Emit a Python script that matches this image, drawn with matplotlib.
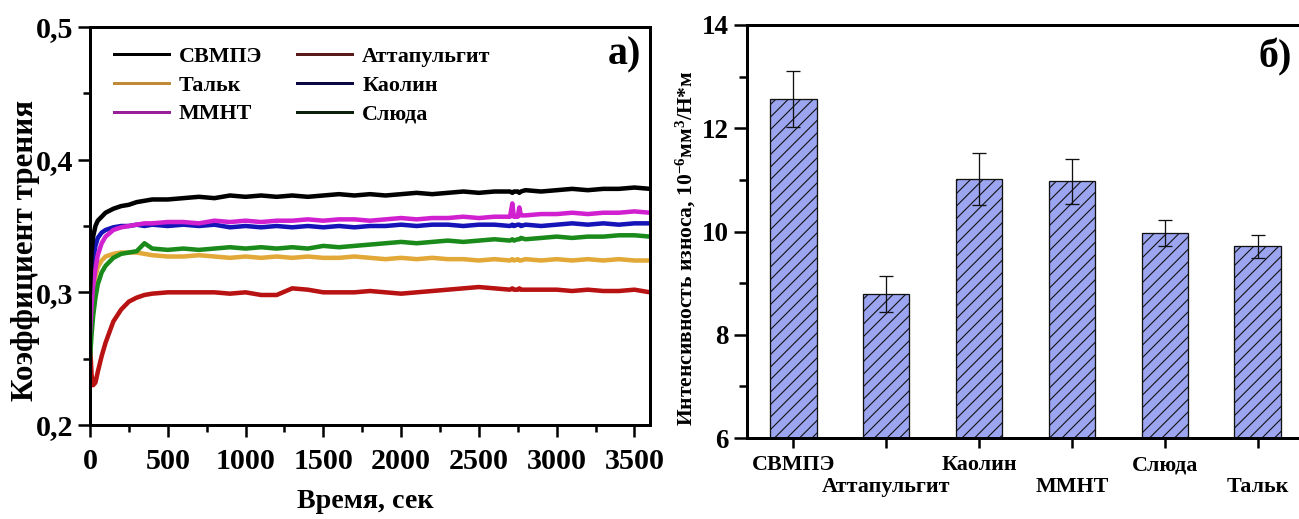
import matplotlib
matplotlib.use("Agg")
import matplotlib.pyplot as plt
from matplotlib.lines import Line2D
from matplotlib.ticker import MultipleLocator
from matplotlib.transforms import ScaledTranslation

DPI = 150
def pt(px):
    return px * 72.0 / DPI

# ---------------- data ----------------
time_s = [0, 10, 20, 35, 50, 75, 100, 150, 200, 250, 300, 350, 400,
          500, 600, 700, 800, 900, 1000, 1100, 1200, 1300, 1400, 1500, 1600,
          1700, 1800, 1900, 2000, 2100, 2200, 2300, 2400, 2500, 2600, 2700,
          2715, 2725, 2750, 2760, 2770,
          2800, 2900, 3000, 3100, 3200, 3300, 3400, 3500, 3600]

svmpe = [0.300, 0.330, 0.342, 0.350, 0.354, 0.357, 0.360, 0.363, 0.365, 0.366, 0.368, 0.369, 0.370,
         0.370, 0.371, 0.372, 0.371, 0.373, 0.372, 0.373, 0.372, 0.373, 0.372, 0.373, 0.374,
         0.373, 0.374, 0.373, 0.374, 0.375, 0.374, 0.375, 0.376, 0.375, 0.376, 0.376,
         0.375, 0.376, 0.376, 0.375, 0.376,
         0.377, 0.376, 0.377, 0.378, 0.377, 0.378, 0.378, 0.379, 0.378]

kaolin = [0.280, 0.310, 0.325, 0.335, 0.341, 0.345, 0.347, 0.349, 0.350, 0.350, 0.351, 0.350, 0.351,
          0.350, 0.351, 0.350, 0.351, 0.349, 0.350, 0.349, 0.350, 0.349, 0.350, 0.349, 0.350,
          0.349, 0.350, 0.350, 0.351, 0.350, 0.351, 0.351, 0.350, 0.351, 0.351, 0.350,
          0.351, 0.350, 0.351, 0.351, 0.350,
          0.351, 0.350, 0.351, 0.352, 0.351, 0.352, 0.351, 0.352, 0.352]

mmnt = [0.270, 0.290, 0.305, 0.318, 0.328, 0.337, 0.342, 0.347, 0.349, 0.350, 0.351, 0.352, 0.352,
        0.353, 0.353, 0.352, 0.354, 0.353, 0.354, 0.353, 0.354, 0.354, 0.355, 0.354, 0.355,
        0.355, 0.354, 0.355, 0.356, 0.355, 0.356, 0.356, 0.357, 0.356, 0.357, 0.357,
        0.367, 0.357, 0.357, 0.364, 0.358,
        0.358, 0.359, 0.359, 0.360, 0.359, 0.360, 0.360, 0.361, 0.360]

sluda = [0.250, 0.268, 0.282, 0.296, 0.306, 0.315, 0.320, 0.326, 0.329, 0.330, 0.331, 0.337, 0.333,
         0.332, 0.333, 0.332, 0.333, 0.334, 0.333, 0.334, 0.333, 0.334, 0.333, 0.335, 0.334,
         0.335, 0.336, 0.337, 0.338, 0.337, 0.338, 0.339, 0.338, 0.339, 0.340, 0.339,
         0.340, 0.339, 0.340, 0.340, 0.341,
         0.340, 0.341, 0.342, 0.341, 0.342, 0.342, 0.343, 0.343, 0.342]

talk = [0.260, 0.285, 0.300, 0.312, 0.319, 0.324, 0.327, 0.329, 0.330, 0.330, 0.330, 0.329, 0.328,
        0.327, 0.327, 0.328, 0.327, 0.326, 0.327, 0.326, 0.327, 0.326, 0.327, 0.326, 0.326,
        0.327, 0.326, 0.325, 0.326, 0.325, 0.326, 0.325, 0.325, 0.324, 0.325, 0.324,
        0.325, 0.324, 0.325, 0.324, 0.324,
        0.325, 0.324, 0.325, 0.324, 0.325, 0.324, 0.325, 0.324, 0.324]

attap = [0.262, 0.238, 0.230, 0.232, 0.240, 0.252, 0.262, 0.278, 0.287, 0.293, 0.296, 0.298, 0.299,
         0.300, 0.300, 0.300, 0.300, 0.299, 0.300, 0.298, 0.298, 0.303, 0.302, 0.300, 0.300,
         0.300, 0.301, 0.300, 0.299, 0.300, 0.301, 0.302, 0.303, 0.304, 0.303, 0.302,
         0.303, 0.302, 0.302, 0.303, 0.302,
         0.302, 0.302, 0.302, 0.301, 0.302, 0.301, 0.301, 0.302, 0.300]

line_names = ["СВМПЭ", "Тальк", "ММНТ", "Аттапульгит", "Каолин", "Слюда"]

yticks_a = [0.2, 0.3, 0.4, 0.5]
yticklabels_a = ["0,2", "0,3", "0,4", "0,5"]
xticks_a = [0, 500, 1000, 1500, 2000, 2500, 3000, 3500]

bar_names = ["СВМПЭ", "Аттапульгит", "Каолин", "ММНТ", "Слюда", "Тальк"]
wear = [12.56, 8.79, 11.02, 10.97, 9.97, 9.71]
wear_err = [0.54, 0.34, 0.51, 0.43, 0.26, 0.22]
yticks_b = [6, 8, 10, 12, 14]

# ---------------- style ----------------
plt.rcParams["font.family"] = ["Liberation Serif", "DejaVu Serif"]
plt.rcParams["font.weight"] = "bold"
plt.rcParams["mathtext.fontset"] = "custom"
plt.rcParams["mathtext.rm"] = "Liberation Serif:bold"
plt.rcParams["mathtext.bf"] = "Liberation Serif:bold"
plt.rcParams["mathtext.default"] = "bf"
plt.rcParams["hatch.color"] = "#1a1a3a"
plt.rcParams["hatch.linewidth"] = pt(1.1)

W, H = 1299, 519
fig = plt.figure(figsize=(W / DPI, H / DPI), dpi=DPI)

def box(x0, y0, x1, y1):
    return [x0 / W, 1 - y1 / H, (x1 - x0) / W, (y1 - y0) / H]

# ---------------- panel a ----------------
ax = fig.add_axes(box(90, 27, 650, 425))
series = [
    (svmpe, "#000000", "#000000"),
    (talk, "#e2a838", "#c08a36"),
    (mmnt, "#d020d0", "#9a209a"),
    (attap, "#b81212", "#5a1a1a"),
    (kaolin, "#1414b8", "#0a0a40"),
    (sluda, "#1a8a1a", "#0a200a"),
]
draw_order = [3, 1, 5, 4, 2, 0]
for i in draw_order:
    vals, col, _ = series[i]
    ax.plot(time_s, vals, color=col, lw=pt(4.5), solid_joinstyle="round")

handles = [Line2D([0], [0], color=s[2], lw=pt(3)) for s in series]
leg = ax.legend(handles, line_names, ncol=2, loc="upper left",
                bbox_to_anchor=(0.015, 0.99), frameon=False,
                prop={"family": "Liberation Serif", "weight": "bold", "size": pt(22)},
                handlelength=2.5, handletextpad=0.45, columnspacing=1.6,
                labelspacing=0.38, borderpad=0.2)

ax.set_xlim(0, 3600)
ax.set_ylim(0.2, 0.5)
ax.set_xticks(xticks_a)
ax.xaxis.set_minor_locator(MultipleLocator(250))
ax.set_yticks(yticks_a)
ax.set_yticklabels(yticklabels_a)
ax.yaxis.set_minor_locator(MultipleLocator(0.05))
ax.tick_params(which="major", direction="out", length=pt(12), width=pt(2.5),
               labelsize=pt(30), pad=pt(5))
ax.tick_params(which="minor", direction="out", length=pt(7), width=pt(2.5))
ax.tick_params(axis="x", which="major", pad=pt(11))
for s in ax.spines.values():
    s.set_linewidth(pt(3))
ax.text(0.985, 0.93, "a)", transform=ax.transAxes, ha="right", va="center",
        fontsize=pt(40), fontweight="bold")

fig.text(26 / W, 1 - 250 / H, "Коэффициент трения", rotation=90,
         ha="center", va="center", fontsize=pt(31), fontweight="bold")
fig.text(365 / W, 1 - 502 / H, "Время, сек", ha="center", va="center",
         fontsize=pt(28), fontweight="bold")

# ---------------- panel b ----------------
bx = fig.add_axes(box(747, 25, 1304, 438))
xpos = list(range(len(bar_names)))
bx.bar(xpos, wear, width=0.5, bottom=0, color="#9ca5ef", edgecolor="#111111",
       linewidth=pt(1.3), hatch="////", zorder=2)
bx.errorbar(xpos, wear, yerr=wear_err, fmt="none", ecolor="#111111",
            elinewidth=pt(1.3), capsize=pt(7), capthick=pt(1.3), zorder=3)
bx.set_xlim(-0.5, 5.5)
bx.set_ylim(6, 14)
bx.set_yticks(yticks_b)
bx.yaxis.set_minor_locator(MultipleLocator(1))
bx.set_xticks(xpos)
bx.set_xticklabels(bar_names, fontsize=pt(22), fontweight="bold")
bx.tick_params(axis="y", which="major", direction="out", length=pt(13),
               width=pt(2.5), labelsize=pt(27), pad=pt(5))
bx.tick_params(axis="y", which="minor", direction="out", length=pt(8), width=pt(2.5))
bx.tick_params(axis="x", which="major", direction="out", length=pt(10),
               width=pt(2.5), pad=pt(7))
# staggered category labels: every second one is shifted down
for i, lab in enumerate(bx.get_xticklabels()):
    if i % 2 == 1:
        lab.set_transform(lab.get_transform() +
                          ScaledTranslation(0, -22.0 / DPI, fig.dpi_scale_trans))
bx.spines["right"].set_visible(False)
for k in ["left", "bottom", "top"]:
    bx.spines[k].set_linewidth(pt(3))
fig.text(1292 / W, 1 - 57 / H, "б)", ha="right", va="center",
         fontsize=pt(40), fontweight="bold")
fig.text(686 / W, 1 - 248 / H,
         "Интенсивность износа, 10$^{-6}$мм$^{3}$/Н*м", rotation=90,
         ha="center", va="center", fontsize=pt(21.5), fontweight="bold")

fig.savefig("out.png", dpi=DPI)
